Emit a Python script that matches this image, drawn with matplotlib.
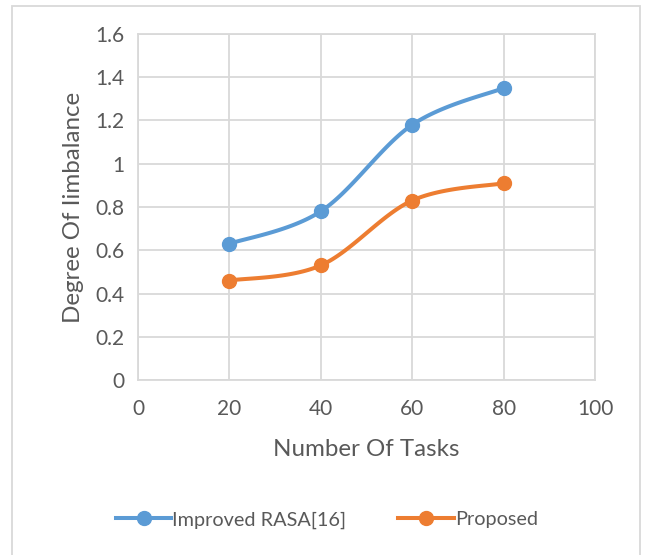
import numpy as np
import matplotlib
matplotlib.use("Agg")
import matplotlib.pyplot as plt
from matplotlib.patches import Rectangle
from matplotlib.ticker import FuncFormatter, MultipleLocator

tasks = [20, 40, 60, 80]
improved_rasa = [0.63, 0.78, 1.18, 1.35]
proposed = [0.46, 0.53, 0.83, 0.91]
series_names = ["Improved RASA[16]", "Proposed"]
x_label = "Number Of Tasks"
y_label = "Degree Of Iimbalance"

plt.rcParams['font.family'] = ['Lato', 'DejaVu Sans']
TXT = '#595959'
GRID = '#D9D9D9'
BLUE = '#5B9BD5'
ORANGE = '#ED7D31'


def smooth(xs, ys, n=40):
    # Excel-like smoothed line (Catmull-Rom Bezier through the data points)
    xs = np.asarray(xs, float); ys = np.asarray(ys, float)
    px = np.concatenate([[xs[0]], xs, [xs[-1]]])
    py = np.concatenate([[ys[0]], ys, [ys[-1]]])
    ox, oy = [], []
    t = np.linspace(0, 1, n)
    for i in range(1, len(px) - 2):
        p0 = np.array([px[i - 1], py[i - 1]]); p1 = np.array([px[i], py[i]])
        p2 = np.array([px[i + 1], py[i + 1]]); p3 = np.array([px[i + 2], py[i + 2]])
        c1 = p1 + (p2 - p0) / 6.0
        c2 = p2 - (p3 - p1) / 6.0
        b = ((1 - t) ** 3)[:, None] * p1 + (3 * (1 - t) ** 2 * t)[:, None] * c1 \
            + (3 * (1 - t) * t ** 2)[:, None] * c2 + (t ** 3)[:, None] * p2
        ox.extend(b[:, 0]); oy.extend(b[:, 1])
    return ox, oy


fig = plt.figure(figsize=(6.47, 5.55), dpi=100)
ax = fig.add_axes([138 / 647, 1 - 380 / 555, (595 - 138) / 647, (380 - 34) / 555])

for ys, col, name in [(improved_rasa, BLUE, series_names[0]), (proposed, ORANGE, series_names[1])]:
    sx, sy = smooth(tasks, ys)
    ax.plot(sx, sy, color=col, lw=2.9, solid_capstyle='round', zorder=3)
    ax.plot(tasks, ys, 'o', color=col, ms=10, zorder=4)
    ax.plot([], [], '-o', color=col, lw=2.9, ms=10, label=name)

ax.set_xlim(0, 100)
ax.set_ylim(0, 1.6)
ax.xaxis.set_major_locator(MultipleLocator(20))
ax.yaxis.set_major_locator(MultipleLocator(0.2))
ax.yaxis.set_major_formatter(FuncFormatter(lambda v, p: f"{round(v, 1):g}"))
ax.grid(True, color=GRID, lw=1.3)
ax.set_axisbelow(True)
for s in ax.spines.values():
    s.set_color(GRID); s.set_linewidth(1.3)
ax.tick_params(length=0, labelsize=15, labelcolor=TXT, pad=10)
ax.tick_params(axis='x', pad=14)
ax.set_xlabel(x_label, fontsize=17.4, color=TXT, labelpad=14)
ax.set_ylabel(y_label, fontsize=17.4, color=TXT, labelpad=8)

fig.legend(loc='center', bbox_to_anchor=(0.505, 1 - 520 / 555), ncol=2, frameon=False,
           fontsize=14.3, labelcolor=TXT, handlelength=2.8, handletextpad=0.05,
           columnspacing=2.6)

fig.patches.append(Rectangle((12 / 647, -0.05), (640 - 12) / 647, 1.05 - 6 / 555,
                             transform=fig.transFigure, fill=False, ec=GRID, lw=1.3))

fig.savefig("out.png", dpi=100)
